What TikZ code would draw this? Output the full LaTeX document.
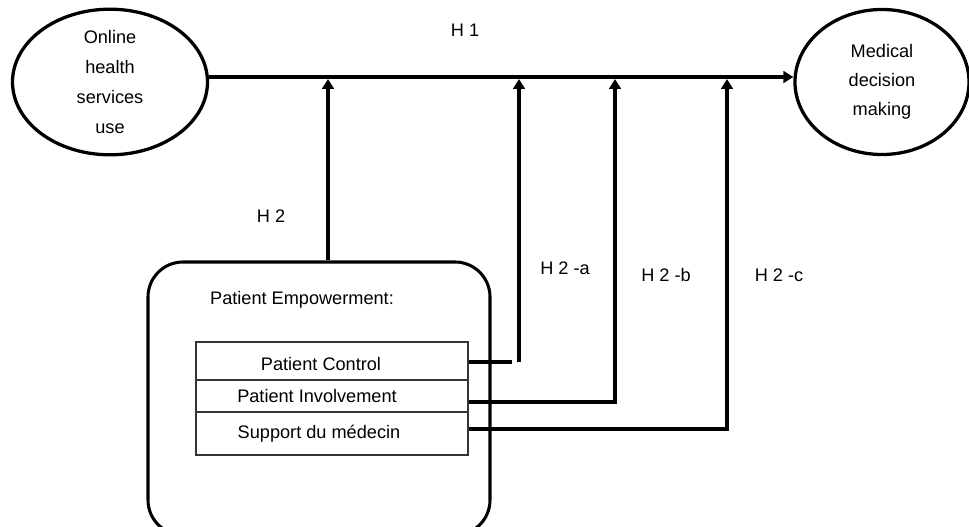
\documentclass[tikz,border=0pt]{standalone}
\usepackage{fontspec}
\setmainfont{Liberation Sans}
\usetikzlibrary{shapes.geometric, arrows.meta}

\tikzset{
    oval/.style={ellipse, draw, line width=2.8pt, inner sep=0pt, align=center},
    panel/.style={draw, line width=2.6pt, rounded corners=1.05cm, minimum width=10.26cm, minimum height=8.19cm},
    item/.style={draw=black!80, line width=1.1pt, minimum width=8.16cm},
    link/.style={line width=3.2pt},
}

\begin{document}
\begin{tikzpicture}[x=0.03cm, y=-0.03cm, >={Triangle[width=10pt, length=8.5pt]},
    font=\fontsize{15.5}{25.5}\selectfont]
    \useasboundingbox (0, 0) rectangle (969, 527);

    % Ovals
    \node[oval, minimum width=5.85cm, minimum height=4.29cm] (online) at (110, 82)
        {Online\\health\\services\\use};
    \node[oval, minimum width=5.22cm, minimum height=4.35cm, font=\fontsize{15.5}{24.5}\selectfont] (decision) at (882, 82)
        {Medical\\decision\\making};

    % Empowerment box
    \node[panel] (emp) at (319, 398.5) {};
    \node[anchor=west] (emptitle) at (206, 300) {Patient Empowerment:};
    \node[item, minimum height=1.14cm] (ctrl) at (332, 361) {};
    \node[item, minimum height=0.96cm] (inv) at (332, 396) {};
    \node[item, minimum height=1.29cm] (sup) at (332, 433.5) {};
    \node (ctrltext) at (321, 364) {Patient Control};
    \node (invtext) at (317, 396) {Patient Involvement};
    \node (suptext) at (319, 434) {Support du médecin};

    % H1
    \draw[link, ->] ([yshift=4.25pt]online.east) -- ([yshift=4.25pt]decision.west);
    \node (h1) at (465, 30) {H 1};

    % Points on the H1 line
    \coordinate (j1) at (328, 79);
    \coordinate (j2) at (519, 79);
    \coordinate (j3) at (615, 79);
    \coordinate (j4) at (727, 79);

    % Corners of the connectors
    \coordinate (ka) at (512, 362);
    \coordinate (kb) at (615, 402);
    \coordinate (kc) at (727, 429);

    % H2
    \draw[link, ->] (j1 |- emp.north) -- (j1);
    \node (h2) at (271, 216) {H 2};

    % H2-a, H2-b, H2-c
    \draw[link] (ctrl.east |- ka) -- (ka);
    \draw[link, ->] (j2 |- ka) -- (j2);
    \draw[link, ->] (inv.east |- kb) -- (kb) -- (j3);
    \draw[link, ->] (sup.east |- kc) -- (kc) -- (j4);
    \node (h2a) at (565, 268) {H 2 -a};
    \node (h2b) at (666, 275) {H 2 -b};
    \node (h2c) at (779, 275) {H 2 -c};
\end{tikzpicture}
\end{document}
